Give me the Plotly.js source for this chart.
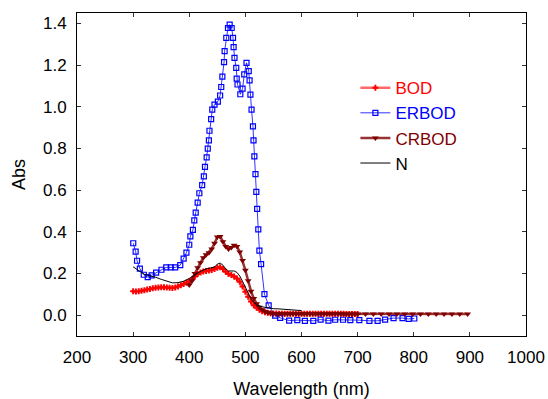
<!DOCTYPE html>
<html>
<head>
<meta charset="utf-8">
<script src="https://cdn.plot.ly/plotly-3.0.1.min.js"></script>
<style>html,body{margin:0;padding:0;background:#fff;}#chart{width:548px;height:399px;}</style>
</head>
<body>
<div id="chart"></div>
<script>
// ERBOD (open squares)
const erbodX = [300.2,304.5,307,312,319,326,333,341,350.5,359,367,375,384,390,395,400,402,406.5,409,411.5,415,418,423,426,428,431,433,435,436,439,441,445,451,455,457,459,462,463,466,469,472,475.6,478,479,480.6,483.7,484.5,486,491,495,498,502,506,507.5,509,511,513.5,514.5,516,518,519.5,521,523,525,528,534,541.5,553,562,578,592.5,606,621,634,648,660,674,687,703,721,735.6,749,764,780,791,801];
const erbodY = [0.345,0.305,0.261,0.223,0.194,0.183,0.191,0.204,0.218,0.229,0.229,0.229,0.240,0.271,0.300,0.338,0.378,0.409,0.455,0.492,0.540,0.585,0.624,0.666,0.712,0.757,0.799,0.839,0.885,0.941,0.986,1.010,1.025,1.054,1.095,1.145,1.214,1.267,1.331,1.378,1.394,1.378,1.331,1.286,1.235,1.187,1.135,1.107,1.060,1.087,1.155,1.211,1.171,1.127,1.058,0.986,0.906,0.839,0.762,0.677,0.592,0.510,0.412,0.310,0.245,0.101,0.047,-0.002,-0.013,-0.026,-0.024,-0.027,-0.027,-0.021,-0.026,-0.022,-0.022,-0.024,-0.024,-0.027,-0.027,-0.021,-0.014,-0.014,-0.018,-0.016];

// BOD (dense red)
const bodX = [300,305,310,315,320,325,330,335,340,345,350,355,360,365,370,375,380,385,390,395,400,405,410,415,420,425,430,435,440,445,450,455,460,465,470,475,480,485,490,495,500,505,510,515,520,525,530,535,540,545,550,555,560,565,570,575,580,585,590,595,600,605,610,615,620,625,630,635,640,645,650,655,660,665,670,675,680,685,690,695,700];
const bodY = [0.115,0.114,0.115,0.117,0.120,0.123,0.126,0.129,0.131,0.133,0.134,0.134,0.133,0.131,0.130,0.133,0.138,0.143,0.150,0.156,0.163,0.172,0.186,0.197,0.205,0.209,0.212,0.214,0.217,0.221,0.228,0.230,0.222,0.208,0.198,0.193,0.186,0.176,0.160,0.137,0.112,0.088,0.065,0.048,0.035,0.026,0.019,0.014,0.011,0.009,0.008,0.008,0.007,0.007,0.007,0.007,0.007,0.007,0.007,0.007,0.007,0.007,0.007,0.007,0.007,0.007,0.007,0.007,0.007,0.007,0.007,0.007,0.007,0.007,0.007,0.007,0.006,0.006,0.006,0.006,0.006];

// CRBOD (dark red, down triangles)
const crbodX = [400,405,410,415,420,425,430,435,440,445,450,455,460,465,470,475,480,485,490,495,500,505,510,515,520,525,530,535,540,545,550,555,560,565,570,575,580,585,590,595,600,605,610,615,620,625,630,635,640,645,650,655,660,665,670,675,680,685,690,695,700,714,728,742,756,770,784,798,812,826,840,854,868,882,896];
const crbodY = [0.145,0.165,0.200,0.228,0.252,0.275,0.290,0.300,0.318,0.345,0.375,0.378,0.352,0.330,0.318,0.325,0.336,0.330,0.303,0.262,0.215,0.165,0.115,0.080,0.055,0.038,0.026,0.018,0.013,0.010,0.008,0.007,0.007,0.007,0.007,0.007,0.007,0.007,0.007,0.007,0.007,0.007,0.007,0.007,0.007,0.007,0.007,0.007,0.007,0.007,0.007,0.007,0.007,0.007,0.007,0.006,0.006,0.006,0.006,0.006,0.006,0.006,0.006,0.006,0.006,0.006,0.006,0.006,0.005,0.005,0.005,0.005,0.005,0.005,0.005];

// N (black line)
const nX = [300,310,320,330,340,350,360,370,380,390,400,410,420,430,440,445,450,455,460,465,470,480,485,490,495,500,505,510,515,520,530,540,550,560,570,580,590,600];
const nY = [0.232,0.213,0.196,0.188,0.182,0.172,0.162,0.155,0.156,0.163,0.176,0.193,0.210,0.222,0.225,0.230,0.245,0.250,0.240,0.222,0.212,0.212,0.205,0.188,0.162,0.132,0.103,0.078,0.062,0.050,0.040,0.034,0.031,0.030,0.028,0.026,0.024,0.022];

const xTicks = [200,300,400,500,600,700,800,900,1000];
const yTicks = [0.0,0.2,0.4,0.6,0.8,1.0,1.2,1.4];
const yTickText = ['0.0','0.2','0.4','0.6','0.8','1.0','1.2','1.4'];

const traces = [
  {x: bodX, y: bodY, name: '<span style="color:#ff0000">BOD</span>', mode: 'lines+markers',
   line: {color: 'rgba(255,40,40,0.7)', width: 2.5},
   marker: {symbol: 'cross', size: 5, color: '#ff0000'}},
  {x: erbodX, y: erbodY, name: '<span style="color:#0000ff">ERBOD</span>', mode: 'lines+markers',
   line: {color: 'rgba(0,0,255,0.8)', width: 1},
   marker: {symbol: 'square-open', size: 5, color: '#0000ff', line: {width: 1.2, color: '#0000ff'}}},
  {x: crbodX, y: crbodY, name: '<span style="color:#800000">CRBOD</span>', mode: 'lines+markers',
   line: {color: 'rgba(128,0,0,0.8)', width: 2.5},
   marker: {symbol: 'triangle-down', size: 6, color: '#800000'}},
  {x: nX, y: nY, name: '<span style="color:#000000">N</span>', mode: 'lines',
   line: {color: '#000000', width: 1}}
];

const axisCommon = {
  showline: true, linecolor: '#000', linewidth: 1, mirror: 'ticks',
  ticks: 'inside', ticklen: 4, tickcolor: '#333', tickwidth: 1,
  showgrid: false, zeroline: false,
  tickfont: {family: 'Liberation Sans, Arial, sans-serif', size: 17, color: '#000'}
};

const layout = {
  width: 548, height: 399,
  margin: {l: 77, r: 22, t: 13, b: 63},
  paper_bgcolor: '#fff', plot_bgcolor: '#fff',
  showlegend: true,
  legend: {x: 0.62, y: 0.823, xanchor: 'left', yanchor: 'top', bgcolor: 'rgba(0,0,0,0)',
           font: {family: 'Liberation Sans, Arial, sans-serif', size: 17}, tracegroupgap: 0},
  xaxis: Object.assign({}, axisCommon, {
    range: [200, 1000], tickvals: xTicks, ticktext: xTicks.map(String), ticklabelstandoff: 6,
    title: {text: 'Wavelength (nm)', font: {family: 'Liberation Sans, Arial, sans-serif', size: 18, color: '#000'}, standoff: 16}
  }),
  yaxis: Object.assign({}, axisCommon, {
    range: [-0.1, 1.45], tickvals: yTicks, ticktext: yTickText, ticklabelstandoff: 6,
    title: {text: 'Abs', font: {family: 'Liberation Sans, Arial, sans-serif', size: 18, color: '#000'}, standoff: 12}
  })
};

Plotly.newPlot('chart', traces, layout, {staticPlot: true, displayModeBar: false});
</script>
</body>
</html>
